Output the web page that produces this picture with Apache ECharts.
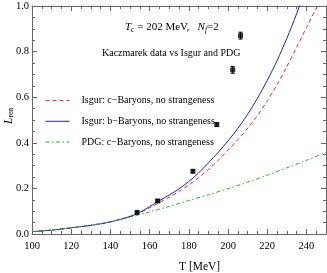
<!DOCTYPE html>
<html>
<head>
<meta charset="utf-8">
<script src="https://cdn.jsdelivr.net/npm/echarts@6/dist/echarts.min.js"></script>
<style>html,body{margin:0;padding:0;background:#fff}#c{width:327px;height:273px}</style>
</head>
<body>
<div id="c"></div>
<script>
// Temperatures (MeV) for the model curves
const tIsgur = [100,110,120,130,140,150,155,160,165,170,175,180,185,190,195,200,205,210,215,220,225,230,235,240,245,250];
const isgurB = [0.010,0.017,0.027,0.038,0.053,0.077,0.095,0.120,0.146,0.171,0.198,0.230,0.268,0.312,0.358,0.408,0.463,0.525,0.595,0.673,0.760,0.858,0.966,1.090,1.220,1.360];
const isgurC = [0.010,0.017,0.027,0.038,0.053,0.076,0.093,0.115,0.138,0.161,0.187,0.215,0.247,0.283,0.323,0.368,0.414,0.464,0.519,0.584,0.654,0.734,0.819,0.905,0.990,1.080];
const tPdg = [100,110,120,130,140,150,160,170,180,190,200,210,220,230,240,250];
const pdgC = [0.011,0.018,0.027,0.039,0.054,0.074,0.097,0.121,0.147,0.172,0.199,0.227,0.258,0.290,0.323,0.358];
// Kaczmarek lattice data
const kT = [153.6,164.1,182.1,194.3,202.4,206.4];
const kL = [0.095,0.145,0.275,0.480,0.720,0.870];
const kErr = [0.004,0.005,0.006,0.008,0.015,0.015];
// Axis ticks
const xTicks = [100,120,140,160,180,200,220,240];
const yTicks = [0.0,0.2,0.4,0.6,0.8,1.0];
const legendNames = ['Isgur: c\u2212Baryons, no strangeness','Isgur: b\u2212Baryons, no strangeness','PDG: c\u2212Baryons, no strangeness'];

const zip = (a,b) => a.map((v,i)=>[v,b[i]]);
const serif = 'Liberation Serif, Times New Roman, serif';
const frame = '#666';

function xAx(pos, labels){
  return {type:'value', position:pos, min:xTicks[0], max:250, interval:xTicks[1]-xTicks[0],
    axisLine:{show:true,onZero:false,lineStyle:{color:frame,width:1}},
    axisTick:{show:true,inside:true,length:5,lineStyle:{color:frame}},
    minorTick:{show:true,splitNumber:4,length:3,lineStyle:{color:frame}},
    splitLine:{show:false},
    axisLabel:{show:labels,margin:7,showMaxLabel:false,color:'#000',fontFamily:serif,fontSize:10.5,
      formatter:v=>xTicks.includes(v)?String(v):''}};
}
function yAx(pos, labels){
  return {type:'value', position:pos, min:yTicks[0], max:yTicks[yTicks.length-1], interval:yTicks[1]-yTicks[0],
    axisLine:{show:true,onZero:false,lineStyle:{color:frame,width:1}},
    axisTick:{show:true,inside:true,length:5,lineStyle:{color:frame}},
    minorTick:{show:true,splitNumber:4,length:3,lineStyle:{color:frame}},
    splitLine:{show:false},
    axisLabel:{show:labels,margin:3,color:'#000',fontFamily:serif,fontSize:10.5,formatter:v=>v.toFixed(1)}};
}

const chart = echarts.init(document.getElementById('c'), null, {renderer:'canvas'});
chart.setOption({
  animation:false,
  backgroundColor:'#fff',
  grid:{left:32,right:1,top:6,bottom:39,containLabel:false},
  xAxis:[xAx('bottom',true), xAx('top',false)],
  yAxis:[yAx('left',true), yAx('right',false)],
  legend:{show:true, orient:'vertical', left:40, top:90, itemWidth:24, itemHeight:14, itemGap:9.5,
    data:legendNames, itemStyle:{opacity:0}, lineStyle:{width:1},
    textStyle:{fontFamily:serif,fontSize:10,color:'#000',padding:[0,0,0,7]}},
  graphic:[
    {type:'text', left:125, top:22, style:{
      rich:{
        i:{fontFamily:serif,fontStyle:'italic',fontSize:11,fill:'#000'},
        n:{fontFamily:serif,fontSize:11,fill:'#000'},
        s:{fontFamily:serif,fontStyle:'italic',fontSize:7.5,fill:'#000',padding:[5,0,0,0]}
      },
      text:'{i|T}{s|c}{n| = 202 MeV,   }{i|N}{s|f}{n|=2}'}},
    {type:'text', left:102, top:48, style:{text:'Kaczmarek data vs Isgur and PDG', fontFamily:serif, fontSize:10, fill:'#000'}},
    {type:'text', left:179, top:261, style:{text:'T [MeV]', fontFamily:serif, fontSize:11.5, fill:'#000', align:'center'}},
    {type:'text', x:9, y:116, rotation:Math.PI/2, style:{
      rich:{
        i:{fontFamily:serif,fontStyle:'italic',fontSize:11.5,fill:'#000'},
        s:{fontFamily:serif,fontSize:7.5,fill:'#000',padding:[5,0,0,0]}
      },
      text:'{i|L}{s|ren}', align:'center', verticalAlign:'middle'}}
  ],
  series:[
    {name:legendNames[0], type:'line', data:zip(tIsgur,isgurC), symbol:'none', smooth:0.3, clip:true,
      lineStyle:{color:'#ff2020',width:1,type:[4,3]}, itemStyle:{color:'#ff2020'}},
    {name:legendNames[1], type:'line', data:zip(tIsgur,isgurB), symbol:'none', smooth:0.3, clip:true,
      lineStyle:{color:'#1a1aff',width:1}, itemStyle:{color:'#1a1aff'}},
    {name:legendNames[2], type:'line', data:zip(tPdg,pdgC), symbol:'none', smooth:0.3, clip:true,
      lineStyle:{color:'#22bb22',width:1,type:[4,2.5,1.5,2.5]}, itemStyle:{color:'#22bb22'}},
    {type:'custom', data:kT.map((t,i)=>[t,kL[i],kErr[i]]), renderItem:(params,api)=>{
      const t=api.value(0), l=api.value(1), e=api.value(2);
      const top=api.coord([t,l+e]), bot=api.coord([t,l-e]);
      return {type:'group', children:[
        {type:'line', shape:{x1:top[0],y1:top[1],x2:bot[0],y2:bot[1]}, style:{stroke:'#000',lineWidth:1}},
        {type:'line', shape:{x1:top[0]-2,y1:top[1],x2:top[0]+2,y2:top[1]}, style:{stroke:'#000',lineWidth:1}},
        {type:'line', shape:{x1:bot[0]-2,y1:bot[1],x2:bot[0]+2,y2:bot[1]}, style:{stroke:'#000',lineWidth:1}}
      ]};
    }, z:3},
    {type:'scatter', data:zip(kT,kL), symbol:'rect', symbolSize:5, itemStyle:{color:'#000'}, z:4}
  ]
});
</script>
</body>
</html>
